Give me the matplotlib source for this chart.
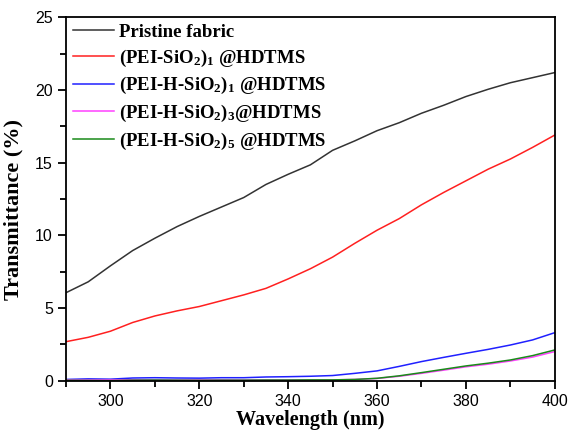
import matplotlib
matplotlib.use("Agg")
import matplotlib.pyplot as plt
from matplotlib.ticker import MultipleLocator

plt.rcParams['mathtext.fontset'] = 'custom'
plt.rcParams['mathtext.rm'] = 'Liberation Serif:bold'
plt.rcParams['mathtext.bf'] = 'Liberation Serif:bold'
plt.rcParams['mathtext.it'] = 'Liberation Serif:bold'

# wavelength grid (nm)
wl = [290, 295, 300, 305, 310, 315, 320, 325, 330, 335, 340, 345,
      350, 355, 360, 365, 370, 375, 380, 385, 390, 395, 400]

pristine = [6.05, 6.8, 7.9, 8.95, 9.8, 10.6, 11.3, 11.95, 12.6, 13.5, 14.2, 14.85,
            15.85, 16.5, 17.2, 17.75, 18.4, 18.95, 19.55, 20.05, 20.5, 20.85, 21.2]
pei_sio2_1 = [2.68, 2.98, 3.4, 4.0, 4.45, 4.8, 5.1, 5.5, 5.9, 6.35, 7.0, 7.7,
              8.5, 9.45, 10.35, 11.15, 12.1, 12.95, 13.75, 14.55, 15.25, 16.05, 16.9]
pei_h_1 = [0.08, 0.12, 0.1, 0.18, 0.2, 0.18, 0.17, 0.2, 0.2, 0.25, 0.27, 0.3,
           0.35, 0.5, 0.67, 0.98, 1.31, 1.6, 1.88, 2.15, 2.45, 2.8, 3.3]
pei_h_3 = [0.05, 0.04, 0.05, 0.06, 0.05, 0.04, 0.05, 0.05, 0.04, 0.05, 0.05, 0.05,
           0.05, 0.08, 0.15, 0.3, 0.5, 0.72, 0.95, 1.13, 1.35, 1.62, 2.0]
pei_h_5 = [0.02, 0.01, 0.0, 0.03, 0.04, 0.03, 0.02, 0.03, 0.03, 0.04, 0.04, 0.05,
           0.05, 0.08, 0.16, 0.33, 0.55, 0.78, 1.01, 1.2, 1.42, 1.72, 2.11]

labels = ['Pristine fabric',
          '(PEI-SiO$_2$)$_1$ @HDTMS',
          '(PEI-H-SiO$_2$)$_1$ @HDTMS',
          '(PEI-H-SiO$_2$)$_3$@HDTMS',
          '(PEI-H-SiO$_2$)$_5$ @HDTMS']
colors = ['#333333', '#ff2020', '#2020ff', '#ff40ff', '#1a8a1a']

fig = plt.figure(figsize=(5.69, 4.34), dpi=100)
ax = fig.add_axes([0.116, 0.123, 0.859, 0.837])

for y, lab, c in zip([pristine, pei_sio2_1, pei_h_1, pei_h_3, pei_h_5], labels, colors):
    ax.plot(wl, y, color=c, lw=1.1, label=lab)

ax.set_xlim(290, 400)
ax.set_ylim(0, 25)
ax.xaxis.set_major_locator(MultipleLocator(20))
ax.xaxis.set_minor_locator(MultipleLocator(10))
ax.yaxis.set_major_locator(MultipleLocator(5))
ax.yaxis.set_minor_locator(MultipleLocator(2.5))
ax.tick_params(which='major', direction='out', length=6, width=1.3,
               labelsize=11.5, top=False, right=False)
ax.tick_params(which='minor', direction='out', length=4, width=1.3,
               top=False, right=False)
for lab in ax.get_xticklabels() + ax.get_yticklabels():
    lab.set_fontfamily('Liberation Sans')
for s in ax.spines.values():
    s.set_linewidth(1.3)

ax.set_xlabel('Wavelength (nm)', fontfamily='Liberation Serif', fontweight='bold',
              fontsize=14.5, labelpad=1)
ax.set_ylabel('Transmittance (%)', fontfamily='Liberation Serif', fontweight='bold',
              fontsize=16)
ax.yaxis.set_label_coords(-0.087, 0.47)

ax.legend(loc='upper left', frameon=False, handlelength=2.2, handletextpad=0.3,
          labelspacing=0.35, borderaxespad=0.1, borderpad=0.25,
          prop={'family': 'Liberation Serif', 'weight': 'bold', 'size': 13.5})

fig.savefig('out.png', dpi=100)
